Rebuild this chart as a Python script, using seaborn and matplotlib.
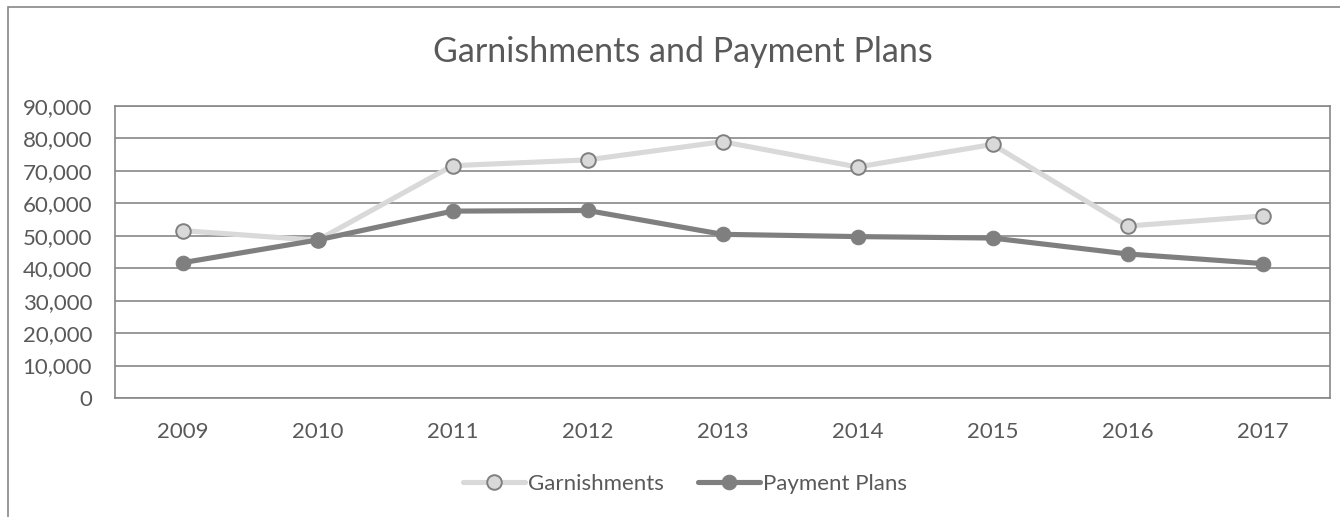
import numpy as np
import pandas as pd
import seaborn as sns
import matplotlib.pyplot as plt
from matplotlib.patches import Rectangle
from matplotlib.ticker import FuncFormatter

sns.set_theme(style="white")
plt.rcParams['font.family'] = ['Lato', 'DejaVu Sans']

# Data
years = [2009, 2010, 2011, 2012, 2013, 2014, 2015, 2016, 2017]
garnishments = [51600, 48600, 71600, 73400, 79000, 71200, 78150, 53000, 56100]
payment_plans = [41700, 48700, 57600, 57800, 50450, 49750, 49300, 44400, 41450]

df = pd.DataFrame({"year": years,
                   "Garnishments": garnishments,
                   "Payment Plans": payment_plans})

text_col = "#595959"
grid_col = "#878787"

fig = plt.figure(figsize=(13.4, 5.17), dpi=100)
ax = fig.add_axes([115 / 1340, 1 - 398 / 517, 1215 / 1340, 292 / 517])

sns.lineplot(data=df, x="year", y="Garnishments", ax=ax, color="#d9d9d9",
             linewidth=3.7, marker="o", markersize=10.5,
             markerfacecolor="#d9d9d9", markeredgecolor="#7f7f7f",
             markeredgewidth=1.4, label="Garnishments", zorder=3)
sns.lineplot(data=df, x="year", y="Payment Plans", ax=ax, color="#7f7f7f",
             linewidth=3.7, marker="o", markersize=10.5,
             markerfacecolor="#7f7f7f", markeredgecolor="#7f7f7f",
             label="Payment Plans", zorder=4)

ax.set_xlim(2008.5, 2017.5)
ax.set_ylim(0, 90000)
ax.set_xticks(years)
ax.set_yticks(np.arange(0, 90001, 10000))
ax.yaxis.set_major_formatter(FuncFormatter(lambda v, p: f"{int(v):,}"))
ax.tick_params(axis="both", labelsize=16, colors=text_col, length=0)
ax.tick_params(axis="y", pad=16.5)
ax.tick_params(axis="x", pad=17)
ax.set_xlabel("")
ax.set_ylabel("")
ax.grid(axis="y", color=grid_col, linewidth=1.2)
ax.set_axisbelow(True)
for s in ax.spines.values():
    s.set_visible(True)
    s.set_color(grid_col)
    s.set_linewidth(1.2)

ax.get_legend().remove()
handles, labels = ax.get_legend_handles_labels()
fig.legend(handles, labels, loc="center", bbox_to_anchor=(685 / 1340, 1 - 484 / 517),
           ncol=2, frameon=False, fontsize=16, labelcolor=text_col,
           handlelength=2.8, handletextpad=0.15, columnspacing=1.5)

fig.text(683 / 1340, 1 - 52 / 517, "Garnishments and Payment Plans", ha="center",
         va="center", fontsize=24.5, color=text_col)

# outer chart frame
fig.add_artist(Rectangle((8 / 1340, -0.1), 1.2, 1.1 - 7 / 517,
                         transform=fig.transFigure, fill=False,
                         edgecolor=grid_col, linewidth=1.2))

fig.savefig("out.png", dpi=100)
